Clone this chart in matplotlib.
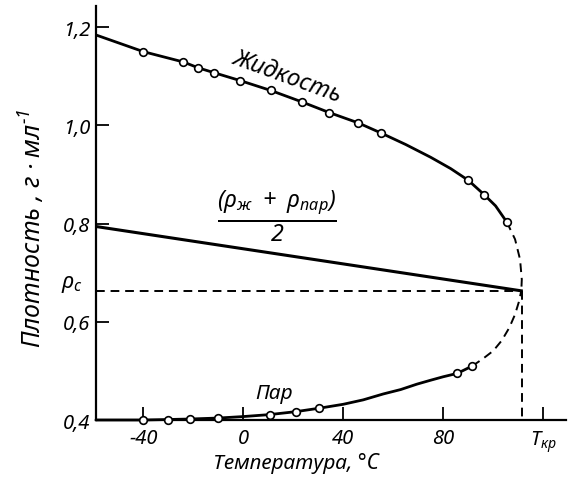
import matplotlib
matplotlib.use("Agg")
import matplotlib.pyplot as plt

# ---------------- data ----------------
# liquid branch: solid curve vertices and measured points
liq_curve_T = [-59, -40, -24, -18, -11.6, -1.2, 11, 23.3, 34.4, 46, 55.3, 65, 75, 83, 90.1, 96.4, 101, 105.5]
liq_curve_rho = [1.184, 1.150, 1.129, 1.117, 1.107, 1.091, 1.071, 1.048, 1.026, 1.005, 0.984, 0.961, 0.935, 0.912, 0.888, 0.859, 0.836, 0.803]
liq_dash_T = [105.5, 108.8, 110.8, 111.5, 111.3]
liq_dash_rho = [0.803, 0.768, 0.727, 0.686, 0.663]
liq_pts_T = [-40, -24, -18, -11.6, -1.2, 11, 23.3, 34.4, 46, 55.3, 90.1, 96.4, 105.5]
liq_pts_rho = [1.150, 1.129, 1.117, 1.107, 1.091, 1.071, 1.048, 1.026, 1.005, 0.984, 0.888, 0.859, 0.803]

# vapour branch
vap_curve_T = [-59, -40, -30, -21.5, -10, 0, 10.5, 21, 30.4, 40, 48, 56, 63, 69.5, 75, 80, 85.7, 91.7]
vap_curve_rho = [0.400, 0.400, 0.401, 0.402, 0.404, 0.407, 0.411, 0.417, 0.424, 0.432, 0.441, 0.453, 0.462, 0.473, 0.481, 0.488, 0.495, 0.510]
vap_dash_T = [91.7, 96, 100.1, 103.5, 106.5, 108.8, 110.3, 111.3]
vap_dash_rho = [0.510, 0.525, 0.541, 0.562, 0.588, 0.615, 0.640, 0.663]
vap_pts_T = [-40, -30, -21.5, -10, 10.5, 21, 30.4, 85.7, 91.7]
vap_pts_rho = [0.400, 0.401, 0.402, 0.404, 0.411, 0.417, 0.424, 0.495, 0.510]

# rectilinear diameter (mean density)
mean_T = [-59, 111.3]
mean_rho = [0.794, 0.663]

# critical point
T_crit = 111.5
rho_crit = 0.663

x_ticks = [-40, 0, 40, 80, 120]
x_ticklabels = ['-40', '0', '40', '80', r'$T_{кр}$']
y_ticks = [0.4, 0.6, 0.8, 1.0, 1.2]
y_ticklabels = ['0,4', '0,6', '0,8', '1,0', '1,2']

# ---------------- style ----------------
FAM = 'Noto Sans'
plt.rcParams['font.family'] = [FAM, 'DejaVu Sans']
plt.rcParams['font.style'] = 'italic'
plt.rcParams['mathtext.fontset'] = 'custom'
plt.rcParams['mathtext.rm'] = FAM + ':italic'
plt.rcParams['mathtext.it'] = FAM + ':italic'
plt.rcParams['mathtext.sf'] = FAM + ':italic'
plt.rcParams['mathtext.default'] = 'it'

fig = plt.figure(figsize=(5.68, 4.85), dpi=100)
W, H = 568, 485
ax = fig.add_axes([96 / W, 1 - 421 / H, 469.5 / W, 414 / H])
ax.set_xlim(-59, 129)
ax.set_ylim(0.4, 1.243)

lw = 2.0
dash = (4.5, 3.0)
ax.plot(liq_curve_T, liq_curve_rho, color='black', lw=lw, solid_capstyle='round', zorder=3)
ax.plot(liq_dash_T, liq_dash_rho, color='black', lw=1.4, dashes=dash, zorder=3)
ax.plot(vap_curve_T, vap_curve_rho, color='black', lw=lw, solid_capstyle='round', zorder=3, clip_on=False)
ax.plot(vap_dash_T, vap_dash_rho, color='black', lw=1.4, dashes=dash, zorder=3)
ax.plot(mean_T, mean_rho, color='black', lw=2.2, zorder=3)

# critical construction lines
ax.plot([-59, T_crit], [rho_crit, rho_crit], color='black', lw=1.4, dashes=dash, zorder=2)
ax.plot([T_crit, T_crit], [rho_crit, 0.4], color='black', lw=1.4, dashes=dash, zorder=2)

ax.plot(liq_pts_T, liq_pts_rho, linestyle='none', marker='o', ms=5.5, mfc='white',
        mec='black', mew=1.2, zorder=5)
ax.plot(vap_pts_T, vap_pts_rho, linestyle='none', marker='o', ms=5.5, mfc='white',
        mec='black', mew=1.2, zorder=5, clip_on=False)

for s in ['top', 'right']:
    ax.spines[s].set_visible(False)
for s in ['left', 'bottom']:
    ax.spines[s].set_linewidth(1.6)

ax.set_xticks(x_ticks)
ax.set_xticklabels(x_ticklabels)
ax.set_yticks(y_ticks)
ax.set_yticklabels(y_ticklabels)
ax.tick_params(axis='both', direction='in', length=9.5, width=1.3, labelsize=14.5)
ax.tick_params(axis='x', pad=6)
ax.tick_params(axis='y', pad=4)

# labels inside plot
ax.text(17.6, 1.100, 'Жидкость', fontsize=17, rotation=-20, ha='center', va='center')
ax.text(12.4, 0.455, 'Пар', fontsize=15, ha='center', va='center')
ax.text(13.6, 0.815, r'$\frac{(\rho_{ж}\ +\ \rho_{пар})}{2}$', fontsize=24, ha='center', va='center')
ax.text(-68.5, 0.677, r'$\rho_c$', fontsize=16, ha='center', va='center', clip_on=False)

fig.text(296 / W, 1 - 464 / H, 'Температура, °C', fontsize=15, ha='center', va='center')
fig.text(33 / W, 1 - 228 / H, 'Плотность , г · мл$^{-1}$', fontsize=18, rotation=90,
         ha='center', va='center')

fig.savefig('out.png', dpi=100)
